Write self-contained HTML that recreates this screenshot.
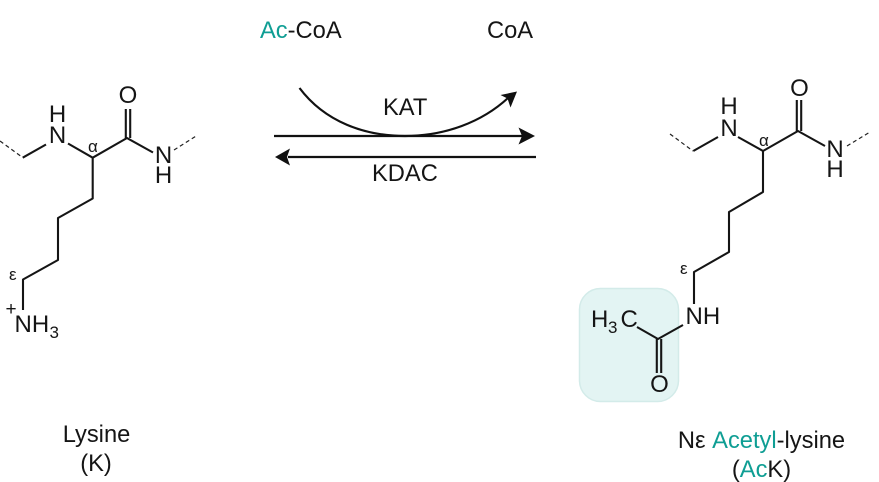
<!DOCTYPE html>
<html><head><meta charset="utf-8"><style>
html,body{margin:0;padding:0;background:#fff;width:879px;height:482px;overflow:hidden}
svg{display:block}
text{font-family:"Liberation Sans",sans-serif;font-size:24px;fill:#151515}
.t{font-size:23.7px}
.g{fill:#0f9e94}
.s{font-size:17px}
.b{fill:none;stroke:#151515;stroke-width:2.1;stroke-linejoin:round}
.d{fill:none;stroke:#222;stroke-width:1.2;stroke-dasharray:4 3}
.l{fill:none;stroke:#111;stroke-width:2.2}
</style></head><body>
<svg width="879" height="482" viewBox="0 0 879 482" xmlns="http://www.w3.org/2000/svg">
<rect x="579.5" y="288.5" width="99" height="113" rx="21" fill="#e3f4f3" stroke="#d3ebe9" stroke-width="1.5"/>

<text class="t" x="260" y="38"><tspan class="g">Ac</tspan>-CoA</text>
<text class="t" x="487" y="38">CoA</text>
<text class="t" x="383" y="115">KAT</text>
<text class="t" x="372" y="181">KDAC</text>

<path class="l" d="M274 136H522"/>
<path d="M535 136L518.500 127.500L522 136L518.500 144.500Z" fill="#111"/>
<path class="l" d="M536 157H288"/>
<path d="M275 157L290 148.500L287 157L290 165.500Z" fill="#111"/>
<path class="l" d="M299.500 88C325 122 365 136 405 136C445 136 482 122 508 98"/>
<path d="M517 91.500L500.500 95L507.500 98.500L510.500 107.500Z" fill="#111"/>

<!-- Lysine -->
<path class="d" d="M0 141L22 157"/>
<path class="b" d="M22.700 157.700L46 144.500M68 143.500L92.700 157.700L127 138L153 152.500M92.700 157.700V198.500L58 218V260L23 279.500V310"/>
<path class="b" d="M125.800 138V109M130.200 138V109"/>
<path class="d" d="M174 150L197 135.500"/>
<text x="57.500" y="122" text-anchor="middle">H</text>
<text x="57.500" y="143" text-anchor="middle">N</text>
<text x="128" y="103" text-anchor="middle">O</text>
<text x="163.500" y="163" text-anchor="middle">N</text>
<text x="163.500" y="183" text-anchor="middle">H</text>
<text class="s" x="88" y="152">α</text>
<text class="s" x="9" y="280">ε</text>
<text x="5.500" y="315" style="font-size:19px">+</text>
<text x="14.500" y="332">NH</text>
<text x="49.500" y="338" style="font-size:17px">3</text>
<text class="t" x="96.500" y="442" text-anchor="middle">Lysine</text>
<text class="t" x="96" y="471" text-anchor="middle">(K)</text>

<!-- Acetyl-lysine -->
<path class="d" d="M670 134L693 151"/>
<path class="b" d="M693.300 151L718 137M738 137L763 151L798 131L825 146M763 151V192L729 212V252L694 272V304M683 325L658 339L637 327"/>
<path class="b" d="M796.800 131V100M801.200 131V100M656.800 339V373M661.200 339V373"/>
<path class="d" d="M847 146L870 132"/>
<text x="729" y="114" text-anchor="middle">H</text>
<text x="729" y="136" text-anchor="middle">N</text>
<text x="799.500" y="96" text-anchor="middle">O</text>
<text x="835" y="157" text-anchor="middle">N</text>
<text x="835" y="177" text-anchor="middle">H</text>
<text class="s" x="759" y="146">α</text>
<text class="s" x="680" y="274">ε</text>
<text x="685.500" y="324">NH</text>
<text x="591" y="327">H</text>
<text x="608" y="333" style="font-size:17px">3</text>
<text x="620.500" y="327">C</text>
<text x="659.500" y="392" text-anchor="middle">O</text>
<text class="t" x="761.500" y="448" text-anchor="middle">Nε <tspan class="g">Acetyl</tspan>-lysine</text>
<text class="t" x="761.500" y="477" text-anchor="middle">(<tspan class="g">Ac</tspan>K)</text>
</svg>
</body></html>
